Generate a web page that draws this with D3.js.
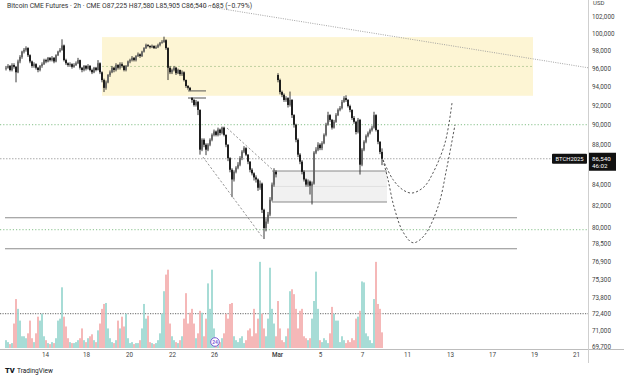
<!DOCTYPE html>
<html><head><meta charset="utf-8">
<script src="https://cdn.jsdelivr.net/npm/d3@7"></script>
<style>
html,body{margin:0;padding:0;background:#fff;}
svg{display:block;font-family:Roboto,"Noto Sans",sans-serif;}
</style></head>
<body>
<script>
// ---------- DATA (prices in thousands USD, 2h bars) ----------
const opens = [96.0,96.1,96.3,95.85,96.4,96.2,95.6,96.8,97.3,97.9,98.1,98.3,97.5,96.8,96.3,96.5,96.1,95.85,96.3,96.5,
96.95,96.8,97.2,96.95,97.2,96.8,97.5,97.9,98.1,98.6,96.95,96.6,96.4,96.5,96.2,96.4,96.6,96.95,96.1,95.85,
96.3,96.0,96.3,95.85,95.6,96.1,95.85,96.6,95.6,94.75,93.9,94.5,95.3,95.6,96.1,95.85,96.4,96.1,96.5,96.3,
95.85,96.3,96.8,96.95,97.2,96.95,97.4,97.6,97.4,97.9,98.3,98.65,98.55,98.4,98.55,98.3,98.4,98.65,98.9,99.0,
99.2,98.3,96.1,95.6,95.85,96.1,95.5,95.85,95.4,95.6,94.75,94.1,93.9,92.8,92.6,92.07,92.4,91.55,87.45,88.45,
87.95,87.45,87.95,88.45,88.95,89.3,88.95,89.5,89.15,89.7,88.95,87.95,86.6,85.45,84.5,85.25,85.65,85.95,86.6,87.25,
87.6,86.95,86.25,85.45,85.1,84.7,84.5,83.7,84.1,81.6,79.9,80.5,81.15,82.55,84.0,85.25,95.3,94.75,93.45,93.15,
92.6,92.8,92.07,92.6,91.0,90.0,88.45,86.95,86.25,85.25,84.5,84.0,84.3,83.9,84.1,87.15,87.45,87.95,87.6,88.1,
88.95,90.0,91.0,90.5,89.7,90.3,91.0,91.55,91.75,92.4,92.8,92.6,91.95,91.55,90.7,90.3,89.25,90.5,85.95,87.45,
88.25,88.85,89.15,89.45,89.7,91.0,89.45,88.25,87.225];
const highs = [96.3,96.5,96.4,96.6,96.6,96.3,97.0,97.5,98.0,98.3,98.5,98.4,97.6,96.9,96.7,96.6,96.2,96.4,96.7,97.1,
97.1,97.3,97.3,97.4,97.3,97.6,98.0,98.3,99.3,98.7,97.1,96.7,96.7,96.6,96.6,96.8,97.2,97.0,96.2,96.4,
96.4,96.5,96.4,96.0,96.2,96.2,96.95,96.7,95.7,94.9,94.7,95.4,95.8,96.3,96.2,96.6,96.5,96.7,96.7,96.4,
96.4,96.9,97.1,97.4,97.3,97.5,97.8,97.7,98.0,98.4,98.8,98.75,98.6,98.7,98.6,98.6,98.8,99.0,99.2,99.6,
99.3,98.4,96.3,96.0,96.3,96.2,96.0,95.9,95.8,95.7,94.8,94.2,94.0,92.9,92.7,92.6,92.5,91.6,88.6,88.6,
88.1,88.1,88.6,89.1,89.5,89.4,89.7,89.6,89.8,89.8,89.0,88.0,86.7,85.6,85.4,85.8,86.2,86.8,87.4,87.8,
87.7,87.0,86.3,85.6,85.2,84.9,84.6,84.4,84.2,81.7,80.8,81.4,82.8,84.2,85.6,85.4,95.5,94.9,93.6,93.3,
93.0,92.9,93.5,92.7,91.1,90.1,88.6,87.1,86.4,85.4,84.6,84.5,84.4,84.3,87.3,87.7,88.2,88.1,88.3,89.1,
90.2,91.35,91.1,90.6,90.5,91.2,91.7,91.95,92.6,93.0,93.1,92.7,92.1,91.6,90.9,90.4,90.7,90.6,87.6,88.4,
89.0,89.3,89.6,89.9,91.35,91.1,89.5,88.3,87.58];
const lows = [95.8,96.0,95.7,95.7,96.0,94.5,95.5,96.6,97.1,97.7,97.9,97.3,96.6,96.1,96.1,95.9,95.6,95.7,96.1,96.4,
96.6,96.7,96.8,96.8,96.6,96.7,97.4,97.8,98.0,96.8,96.4,96.2,96.2,96.0,96.1,96.3,96.5,95.9,95.6,95.7,
95.8,95.9,95.7,95.4,95.5,95.7,95.8,95.4,94.5,93.45,93.7,94.4,95.1,95.5,95.6,95.7,95.9,95.9,96.1,95.7,
95.7,96.2,96.6,96.8,96.8,96.8,97.3,97.2,97.3,97.8,98.2,98.4,98.25,98.3,98.2,98.2,98.3,98.5,98.8,98.9,
98.1,94.75,95.4,95.4,95.7,95.3,95.4,95.2,95.2,94.6,93.9,93.7,93.55,92.3,91.9,91.9,91.0,86.95,87.3,87.7,
86.9,87.3,87.8,88.3,88.8,88.8,88.8,88.9,89.0,88.8,87.7,86.3,85.2,82.8,84.3,85.1,85.5,85.8,86.4,87.1,
86.8,86.0,85.2,84.9,84.4,84.2,83.4,83.5,81.3,78.9,79.6,80.3,81.0,82.4,83.8,84.7,94.5,93.2,92.9,92.4,
92.4,91.8,91.9,90.7,89.7,88.2,86.7,86.0,85.0,84.3,83.8,83.8,83.05,82.1,84.0,87.0,87.3,87.4,87.4,88.0,
88.8,89.9,90.3,89.5,89.6,90.2,90.9,91.4,91.6,92.3,92.4,91.8,91.3,90.5,90.1,89.0,89.1,84.98,85.8,87.3,
88.1,88.7,89.0,89.3,89.6,89.3,88.0,87.0,85.905];
const closes = [96.1,96.3,95.85,96.4,96.2,95.6,96.8,97.3,97.9,98.1,98.3,97.5,96.8,96.3,96.5,96.1,95.85,96.3,96.5,96.95,
96.8,97.2,96.95,97.2,96.8,97.5,97.9,98.1,98.6,96.95,96.6,96.4,96.5,96.2,96.4,96.6,96.95,96.1,95.85,96.3,
96.0,96.3,95.85,95.6,96.1,95.85,96.6,95.6,94.75,93.9,94.5,95.3,95.6,96.1,95.85,96.4,96.1,96.5,96.3,95.85,
96.3,96.8,96.95,97.2,96.95,97.4,97.6,97.4,97.9,98.3,98.65,98.55,98.4,98.55,98.3,98.4,98.65,98.9,99.0,99.2,
98.3,96.1,95.6,95.85,96.1,95.5,95.85,95.4,95.6,94.75,94.1,93.9,93.67,92.6,92.07,92.4,91.55,87.45,88.45,87.95,
87.45,87.95,88.45,88.95,89.3,88.95,89.5,89.15,89.7,88.95,87.95,86.6,85.45,84.5,85.25,85.65,85.95,86.6,87.25,87.6,
86.95,86.25,85.45,85.1,84.7,84.5,83.7,84.1,81.6,79.9,80.5,81.15,82.55,84.0,85.25,85.0,94.75,93.45,93.15,92.6,
92.8,92.07,92.6,91.0,90.0,88.45,86.95,86.25,85.25,84.5,84.0,84.3,83.9,84.1,87.15,87.45,87.95,87.6,88.1,88.95,
90.0,91.0,90.5,89.7,90.3,91.0,91.55,91.75,92.4,92.8,92.6,91.95,91.55,90.7,90.3,89.25,90.5,85.95,87.45,88.25,
88.85,89.15,89.45,89.7,91.0,89.45,88.25,87.225,86.54];
const volumes = [8,6,4,5,25,50,40,28,12,12,10,15,28,10,6,15,32,28,35,12,
8,5,4,6,5,10,28,30,62,32,22,10,6,5,5,6,8,10,20,8,
6,10,12,14,8,6,18,25,40,45,46,20,10,6,5,8,28,20,32,22,
35,10,5,6,4,5,5,8,20,45,30,33,6,5,4,5,8,15,35,58,
75,80,25,12,8,6,5,8,12,30,56,25,36,40,25,10,15,38,36,12,
30,66,40,80,20,10,8,6,10,15,35,30,45,46,12,8,6,10,12,5,
8,18,20,12,40,15,30,88,35,20,12,30,82,40,25,12,48,20,8,6,
12,20,58,60,55,40,20,38,40,12,10,8,10,30,48,78,40,8,6,10,
8,5,15,42,35,28,28,6,12,8,5,8,6,10,8,30,32,38,68,67,
15,12,8,5,50,88,45,40,16];

// x-axis labels at bar-index positions
const xTickIdx = [19.5,40,61.5,83,104,135.5,157,178,200.5,222,243,264,285];
const xTickLabels = ["14","18","20","22","26","Mar","5","7","11","13","17","19","21"];
// price-scale labels
const priceTicks = [102000,100000,98000,96000,94000,92000,90000,88000,84000,82000,80000,78500,76900,75300,73800,72400,71000,69700];

// chart drawings (bar index, price)
const zoneBox = {i0:48, i1:263.5, top:99550, bottom:93050};
const gapBox = {i0:133, i1:190.5, top:85330, bottom:82340};
const supportLines = [80850, 78020];
const greenDotted = [90000, 79750];
const lastPrice = 86540;
const volMA = 72400;
const gapMarks = [93570, 92810];
const trendLine = [[93,103420],[291,96100]];
const channelUpper = [[110.5,89660],[134.5,85240]];
const channelLower = [[98.5,86710],[128.5,79000]];
const projA = [[188.5,86430],[193.5,84490],[198.5,83490],[203,83190],[209,83780],[213.5,85140],[219.5,88130],[223,92280]];
const projB = [[188.5,86430],[191,84490],[194,81880],[198.5,79550],[203.5,78560],[209,79190],[216,81880],[220.5,85730],[224.5,89990]];

// ---------- CHART ----------
const W=624,H=380;
const svg=d3.select("body").append("svg").attr("width",W).attr("height",H);
const x=d3.scaleLinear().domain([-0.5,291]).range([5,588]);
const y=d3.scaleLog().domain([102000,80000]).range([16,227]);
const v=d3.scaleLinear().domain([0,95]).range([348,255]);
const K=1000;
const bars=closes.map((c,i)=>({i,o:opens[i]*K,h:highs[i]*K,l:lows[i]*K,c:c*K,vol:volumes[i]}));

// yellow zone
svg.append("rect").attr("x",x(zoneBox.i0)).attr("y",y(zoneBox.top))
  .attr("width",x(zoneBox.i1)-x(zoneBox.i0)).attr("height",y(zoneBox.bottom)-y(zoneBox.top))
  .attr("fill","#fdf5d4");
svg.append("line").attr("x1",x(zoneBox.i0)).attr("x2",x(zoneBox.i1))
  .attr("y1",y(Math.sqrt(zoneBox.top*zoneBox.bottom))).attr("y2",y(Math.sqrt(zoneBox.top*zoneBox.bottom)))
  .attr("stroke","#b9cc9c").attr("stroke-width",0.9).attr("stroke-dasharray","2,2");

// gray gap box
svg.append("rect").attr("x",x(gapBox.i0)).attr("y",y(gapBox.top))
  .attr("width",x(gapBox.i1)-x(gapBox.i0)).attr("height",y(gapBox.bottom)-y(gapBox.top))
  .attr("fill","#f1f1f1");
[gapBox.top,gapBox.bottom].forEach(p=>svg.append("line").attr("x1",x(gapBox.i0)).attr("x2",x(gapBox.i1))
  .attr("y1",y(p)).attr("y2",y(p)).attr("stroke","#8a8a8a").attr("stroke-width",1.1));
svg.append("line").attr("x1",x(gapBox.i0)).attr("x2",x(gapBox.i1))
  .attr("y1",y(Math.sqrt(gapBox.top*gapBox.bottom))).attr("y2",y(Math.sqrt(gapBox.top*gapBox.bottom)))
  .attr("stroke","#dcdcdc").attr("stroke-width",0.8);

// horizontal levels
greenDotted.forEach(p=>svg.append("line").attr("x1",0).attr("x2",588).attr("y1",y(p)).attr("y2",y(p))
  .attr("stroke","#86c08a").attr("stroke-width",1).attr("stroke-dasharray","1.2,2"));
svg.append("line").attr("x1",0).attr("x2",588).attr("y1",y(lastPrice)).attr("y2",y(lastPrice))
  .attr("stroke","#aaa").attr("stroke-width",1).attr("stroke-dasharray","1.5,1.5");
supportLines.forEach(p=>svg.append("line").attr("x1",x(-0.5)).attr("x2",x(255.5)).attr("y1",y(p)).attr("y2",y(p))
  .attr("stroke","#8c8c8c").attr("stroke-width",1.1));
svg.append("line").attr("x1",0).attr("x2",588).attr("y1",y(volMA)).attr("y2",y(volMA))
  .attr("stroke","#666").attr("stroke-width",1).attr("stroke-dasharray","1.2,1.3");
gapMarks.forEach(p=>svg.append("line").attr("x1",x(91)).attr("x2",x(100)).attr("y1",y(p)).attr("y2",y(p))
  .attr("stroke","#555").attr("stroke-width",1));

// volume
svg.append("g").selectAll("rect").data(bars).join("rect")
  .attr("x",d=>x(d.i)-0.85).attr("width",1.7)
  .attr("y",d=>v(d.vol)).attr("height",d=>v(0)-v(d.vol))
  .attr("fill",d=>d.c>=d.o?"#98d6cf":"#f4adad");

// candles
const cg=svg.append("g");
cg.selectAll("line").data(bars).join("line")
  .attr("x1",d=>x(d.i)).attr("x2",d=>x(d.i)).attr("y1",d=>y(d.h)).attr("y2",d=>y(d.l))
  .attr("stroke","#222").attr("stroke-width",0.9);
cg.selectAll("rect").data(bars).join("rect")
  .attr("x",d=>x(d.i)-0.9).attr("width",1.8)
  .attr("y",d=>y(Math.max(d.o,d.c))).attr("height",d=>Math.max(0.9,Math.abs(y(d.o)-y(d.c))))
  .attr("fill",d=>d.c>=d.o?"#666":"#111");

// drawings
const line=d3.line().x(d=>x(d[0])).y(d=>y(d[1]));
svg.append("path").attr("d",line(trendLine)).attr("fill","none").attr("stroke","#9a9a9a")
  .attr("stroke-width",0.9).attr("stroke-dasharray","1,1.3");
[channelUpper,channelLower].forEach(s=>svg.append("path").attr("d",line(s)).attr("fill","none")
  .attr("stroke","#888").attr("stroke-width",0.9).attr("stroke-dasharray","2.2,2"));
const curve=d3.line().x(d=>x(d[0])).y(d=>y(d[1])).curve(d3.curveCatmullRom);
[projA,projB].forEach(s=>svg.append("path").attr("d",curve(s)).attr("fill","none")
  .attr("stroke","#444").attr("stroke-width",0.9).attr("stroke-dasharray","2.2,2"));

// frame lines
svg.append("line").attr("x1",0).attr("x2",W).attr("y1",349.5).attr("y2",349.5).attr("stroke","#bdbdbd");
svg.append("line").attr("x1",588.5).attr("x2",588.5).attr("y1",0).attr("y2",363).attr("stroke","#cfcfcf");

// price axis
const ya=svg.append("g").attr("transform","translate(592,0)")
  .call(d3.axisRight(y).tickValues(priceTicks).tickSize(0).tickPadding(0).tickFormat(d3.format(",")));
ya.select(".domain").remove();
ya.selectAll("text").attr("font-size",6.3).attr("fill","#444").attr("font-family","Roboto,sans-serif");
svg.append("text").attr("x",593).attr("y",5).attr("font-size",6).attr("fill","#444").text("USD");

// x axis
const xa=svg.append("g").attr("transform","translate(0,351)")
  .call(d3.axisBottom(x).tickValues(xTickIdx).tickSize(0).tickPadding(2).tickFormat((d,i)=>xTickLabels[i]));
xa.select(".domain").remove();
xa.selectAll("text").attr("font-size",6.3).attr("fill","#444").attr("font-family","Roboto,sans-serif")
  .attr("font-weight",(d,i)=>xTickLabels[i]==="Mar"?"600":"400");

// last price labels
const ly=y(lastPrice);
svg.append("rect").attr("x",552).attr("y",ly-5).attr("width",35).attr("height",10).attr("fill","#111").attr("rx",1);
svg.append("text").attr("x",569.5).attr("y",ly+2.2).attr("text-anchor","middle").attr("font-size",5.8)
  .attr("fill","#fff").text("BTCH2025");
svg.append("rect").attr("x",589).attr("y",ly-6).attr("width",27).attr("height",18).attr("fill","#111");
svg.append("text").attr("x",592).attr("y",ly+2).attr("font-size",6.2).attr("fill","#fff").text(d3.format(",")(lastPrice));
svg.append("text").attr("x",592).attr("y",ly+9.5).attr("font-size",6.2).attr("fill","#fff").text("46:02");

// title
svg.append("text").attr("x",7).attr("y",7.5).attr("font-size",6.8).attr("fill","#333")
  .text("Bitcoin CME Futures · 2h · CME  O87,225  H87,580  L85,905  C86,540  −685 (−0.79%)");

// event marker
svg.append("circle").attr("cx",x(104.5)).attr("cy",342).attr("r",4.3).attr("fill","#fff")
  .attr("stroke","#7b5cd6").attr("stroke-width",1);
svg.append("text").attr("x",x(104.5)).attr("y",344).attr("text-anchor","middle").attr("font-size",5)
  .attr("fill","#7b5cd6").attr("font-weight","700").text("24");

// TradingView logo
svg.append("text").attr("x",5).attr("y",373).attr("font-size",7.5).attr("font-weight","900").attr("fill","#131722").text("TV");
svg.append("text").attr("x",17).attr("y",373).attr("font-size",6.5).attr("fill","#131722").text("TradingView");
</script>
</body></html>
